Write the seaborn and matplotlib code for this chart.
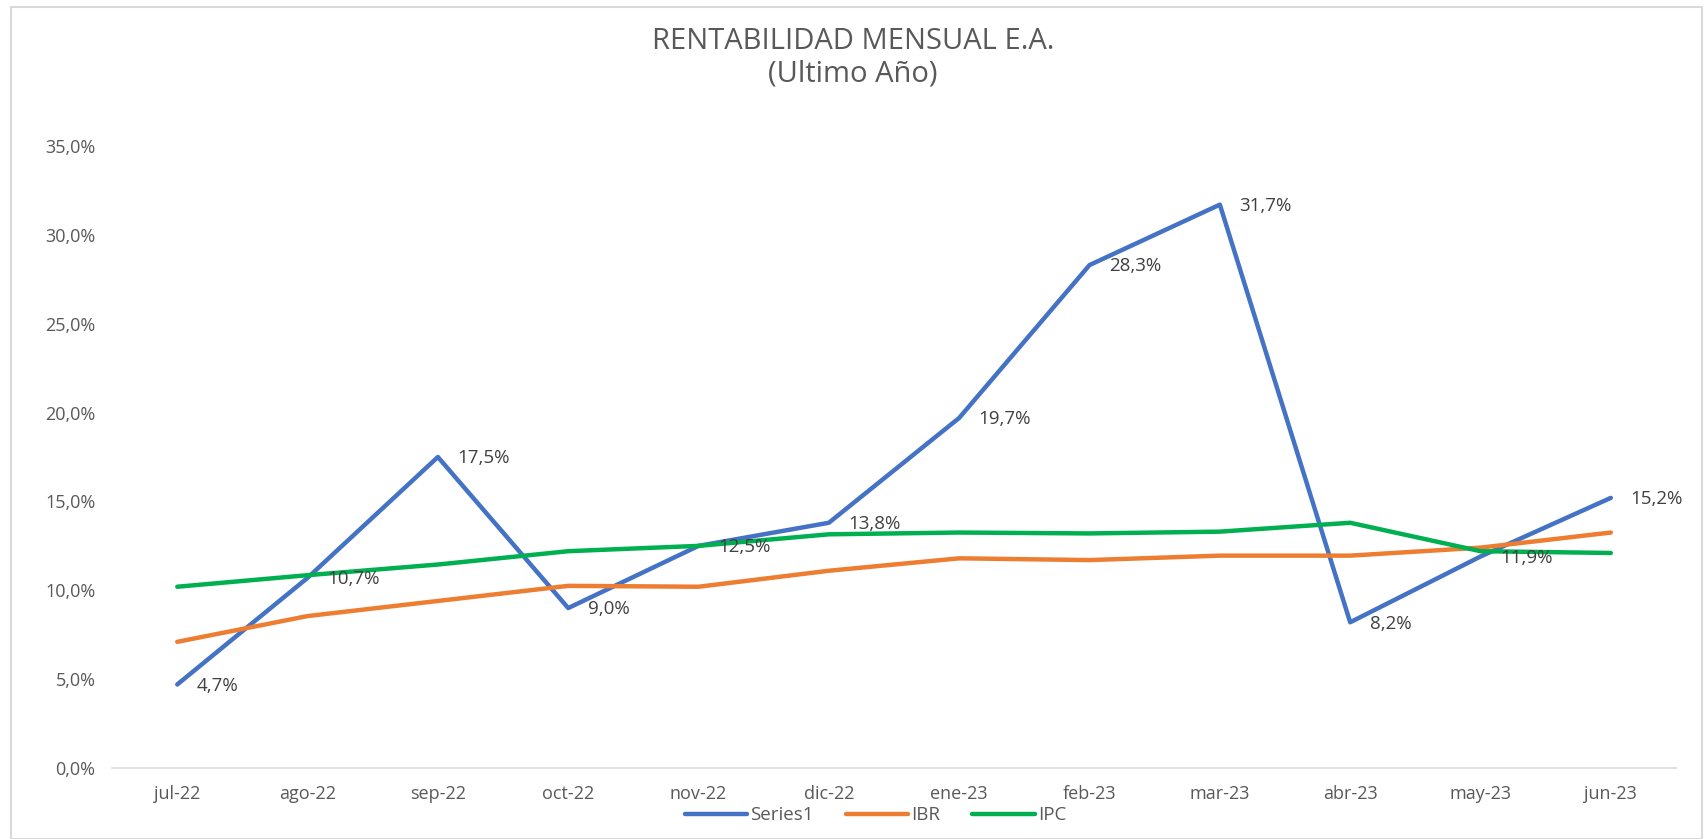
import pandas as pd
import matplotlib
matplotlib.use("Agg")
import matplotlib.pyplot as plt
from matplotlib.patches import Rectangle
import seaborn as sns

# Chart data
meses = ['jul-22', 'ago-22', 'sep-22', 'oct-22', 'nov-22', 'dic-22',
         'ene-23', 'feb-23', 'mar-23', 'abr-23', 'may-23', 'jun-23']
series1 = [4.7, 10.7, 17.5, 9.0, 12.5, 13.8, 19.7, 28.3, 31.7, 8.2, 11.9, 15.2]
ibr = [7.1, 8.55, 9.4, 10.25, 10.2, 11.1, 11.8, 11.7, 11.95, 11.95, 12.4, 13.25]
ipc = [10.2, 10.85, 11.45, 12.2, 12.5, 13.15, 13.25, 13.2, 13.3, 13.8, 12.2, 12.1]

df = pd.DataFrame({
    'Mes': meses * 3,
    'Valor': series1 + ibr + ipc,
    'Serie': ['Series1'] * 12 + ['IBR'] * 12 + ['IPC'] * 12,
})

sns.set_style('white')
plt.rcParams['font.family'] = ['Open Sans', 'DejaVu Sans']
gris = '#595959'

fig = plt.figure(figsize=(17.06, 8.39), dpi=100)
ax = fig.add_axes([0.0657, 0.0846, 0.9167, 0.7414])

paleta = {'Series1': '#4472C4', 'IBR': '#ED7D31', 'IPC': '#00B050'}
sns.lineplot(data=df, x='Mes', y='Valor', hue='Serie', palette=paleta,
             linewidth=3.2, sort=False, ax=ax, legend=True)

# data labels for Series1
for i, v in enumerate(series1):
    ax.annotate(f'{v:.1f}%'.replace('.', ','), (i, v), xytext=(14, -1),
                textcoords='offset points', ha='left', va='center',
                fontsize=13.5, color='#404040')

ax.set_xlim(-0.5, 11.5)
ax.set_ylim(0, 35)
ax.set_yticks(range(0, 36, 5))
ax.set_yticklabels([f'{t},0%' for t in range(0, 36, 5)])
ax.set_xticks(range(12))
ax.set_xticklabels(meses)
ax.set_xlabel('')
ax.set_ylabel('')

for s in ['top', 'right', 'left']:
    ax.spines[s].set_visible(False)
ax.spines['bottom'].set_color('#D9D9D9')
ax.spines['bottom'].set_linewidth(1.2)

ax.tick_params(axis='y', length=0, pad=12, labelsize=13, labelcolor=gris)
ax.tick_params(axis='x', length=0, pad=12, labelsize=13, labelcolor=gris)
# tick marks between categories
ax.set_xticks([x + 0.5 for x in range(-1, 12)], minor=True)
ax.tick_params(axis='x', which='minor', length=6, color='#D9D9D9', width=1.2)

fig.text(0.5, 0.951, 'RENTABILIDAD MENSUAL E.A.', ha='center', va='center',
         fontsize=21, color=gris)
fig.text(0.5, 0.912, '(Ultimo Año)', ha='center', va='center',
         fontsize=21, color=gris)

leg = ax.legend(loc='center', bbox_to_anchor=(0.488, -0.076), ncol=3,
                frameon=False, fontsize=13.5, handlelength=3.35,
                columnspacing=1.7, handletextpad=0.15)
for t in leg.get_texts():
    t.set_color(gris)
for h in leg.get_lines():
    h.set_linewidth(3.2)

fig.patches.append(Rectangle((11 / 1706, 0), 1691 / 1706, 1 - 7 / 839,
                             transform=fig.transFigure, fill=False,
                             edgecolor='#D9D9D9', linewidth=1.5))

fig.savefig('out.png', dpi=100)
